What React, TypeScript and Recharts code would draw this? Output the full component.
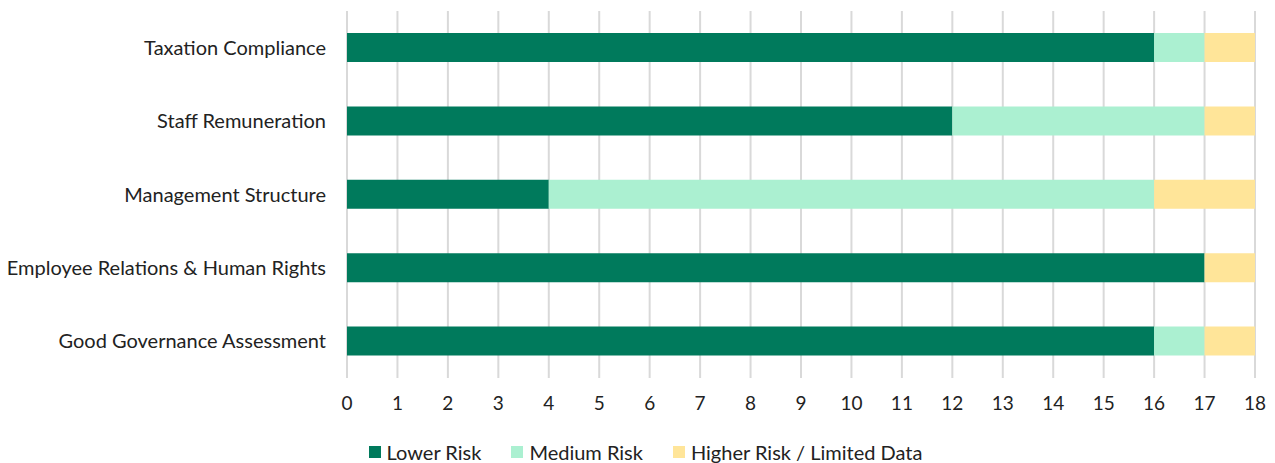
import { Bar, BarChart, CartesianGrid, Legend, XAxis, YAxis } from "recharts";

const categories = [
  "Taxation Compliance",
  "Staff Remuneration",
  "Management Structure",
  "Employee Relations & Human Rights",
  "Good Governance Assessment",
];
const lowerRisk = [16, 12, 4, 17, 16];
const mediumRisk = [1, 5, 12, 0, 1];
const higherRisk = [1, 1, 2, 1, 1];
const xTicks = [0, 1, 2, 3, 4, 5, 6, 7, 8, 9, 10, 11, 12, 13, 14, 15, 16, 17, 18];

const series = [
  { key: "lower", name: "Lower Risk", color: "#007a5c" },
  { key: "medium", name: "Medium Risk", color: "#abf0d1" },
  { key: "higher", name: "Higher Risk / Limited Data", color: "#ffe599" },
];

const data = categories.map((name, i) => ({
  name,
  lower: lowerRisk[i],
  medium: mediumRisk[i],
  higher: higherRisk[i],
}));

const FONT = "Lato, 'Noto Sans', sans-serif";

function RiskLegend() {
  return (
    <div
      style={{
        display: "flex",
        justifyContent: "center",
        gap: 30,
        fontFamily: FONT,
        fontSize: 20,
        color: "#222",
        marginTop: 12,
        paddingLeft: 36,
      }}
    >
      {series.map((s) => (
        <div key={s.key} style={{ display: "flex", alignItems: "center" }}>
          <span
            style={{
              display: "inline-block",
              width: 12,
              height: 12,
              background: s.color,
              marginRight: 6,
            }}
          />
          <span>{s.name}</span>
        </div>
      ))}
    </div>
  );
}

export default function App() {
  return (
    <div style={{ position: "absolute", left: 0, top: 0, background: "#fff" }}>
      <BarChart
        width={1275}
        height={463}
        data={data}
        layout="vertical"
        barSize={29}
        margin={{ top: 11, right: 20, bottom: 0, left: 0 }}
      >
        <CartesianGrid horizontal={false} stroke="#d9d9d9" strokeWidth={2} />
        <XAxis
          type="number"
          domain={[0, 18]}
          ticks={xTicks}
          interval={0}
          axisLine={false}
          tickLine={false}
          tickSize={0}
          tickMargin={19}
          height={50}
          tick={{ fill: "#222", fontSize: 19, fontFamily: FONT }}
        />
        <YAxis
          type="category"
          dataKey="name"
          width={347}
          axisLine={false}
          tickLine={false}
          tickSize={0}
          tickMargin={21}
          tick={{ fill: "#222", fontSize: 20, fontFamily: FONT }}
        />
        <Legend verticalAlign="bottom" height={35} content={<RiskLegend />} />
        {series.map((s) => (
          <Bar
            key={s.key}
            dataKey={s.key}
            name={s.name}
            stackId="risk"
            fill={s.color}
            isAnimationActive={false}
          />
        ))}
      </BarChart>
    </div>
  );
}
